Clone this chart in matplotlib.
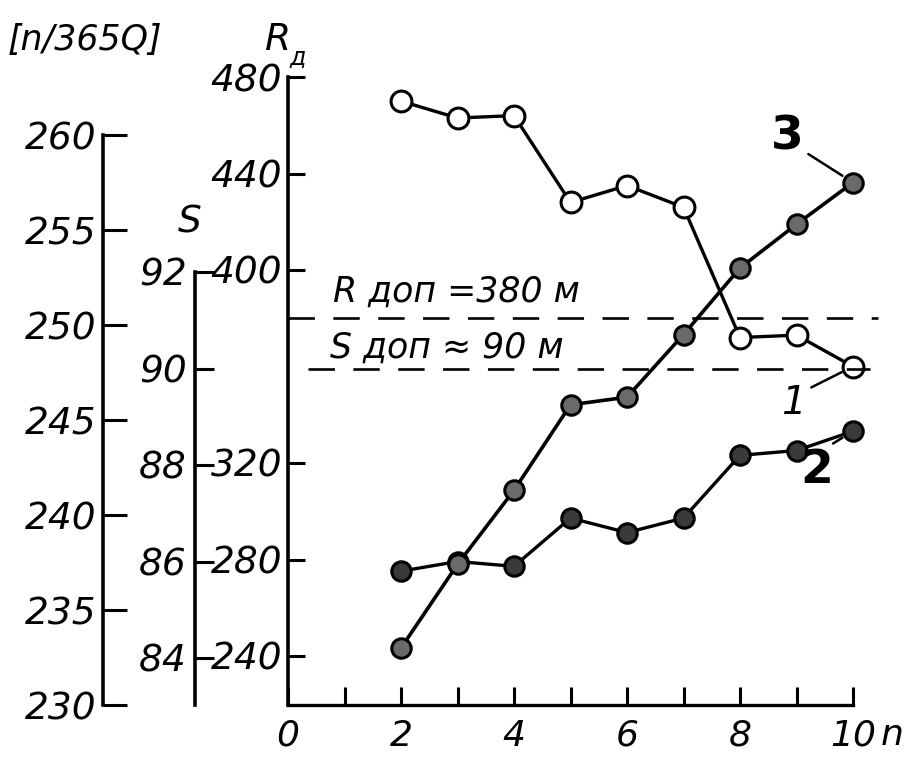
import matplotlib
matplotlib.use("Agg")
import matplotlib.pyplot as plt

# data
n = [2, 3, 4, 5, 6, 7, 8, 9, 10]
r_curve1 = [470, 463, 464, 428, 435, 426, 372, 373, 360]           # R, open circles
s_curve2 = [85.8, 86.0, 85.9, 86.9, 86.6, 86.9, 88.2, 88.3, 88.7]  # S, filled circles
q_curve3 = [233.0, 237.4, 241.3, 245.8, 246.2, 249.5, 253.0, 255.3, 257.5]  # n/365Q
r_ticks = [480, 440, 400, 320, 280, 240]
s_ticks = [92, 90, 88, 86, 84]
q_ticks = [260, 255, 250, 245, 240, 235, 230]
x_major = [0, 2, 4, 6, 8, 10]
x_minor = [1, 3, 5, 7, 9]
r_allowed = 380
s_allowed = 90

W, H = 915, 761
FONT = dict(family="DejaVu Sans", style="italic")

fig = plt.figure(figsize=(W / 100, H / 100), dpi=100)
ax = fig.add_axes([288 / W, 1 - 705 / H, (880 - 288) / W, (705 - 77) / H])
ax.set_xlim(0, (880 - 288) / 56.5)
ax.set_ylim(480 - 628 / 2.4125, 480)

ax_s = ax.twinx()
ax_s.set_ylim(92 - (705 - 272) / 48.25, 92 + (272 - 77) / 48.25)
ax_q = ax.twinx()
ax_q.set_ylim(230, 230 + (705 - 77) / 19.0)

width = 592.0
for a, pos in [(ax, 0.0), (ax_s, (195 - 288) / width), (ax_q, (103 - 288) / width)]:
    for side in ("top", "right"):
        a.spines[side].set_visible(False)
    if a is not ax:
        a.spines["bottom"].set_visible(False)
        a.yaxis.set_ticks_position("left")
        a.yaxis.set_label_position("left")
    a.spines["left"].set_visible(True)
    a.spines["left"].set_position(("axes", pos))
    a.spines["left"].set_linewidth(2.6)
    a.patch.set_visible(False)

ax.spines["bottom"].set_bounds(0, 10)
ax.spines["bottom"].set_linewidth(2.4)
ax_s.spines["left"].set_bounds(ax_s.get_ylim()[0], 92)
ax_q.spines["left"].set_bounds(230, 260)

# y axes
ax.set_yticks(r_ticks)
ax.set_yticklabels([str(v) for v in r_ticks], fontsize=27, **FONT)
ax.tick_params(axis="y", direction="in", length=12, width=2.2, pad=4)
ax_s.set_yticks(s_ticks)
ax_s.set_yticklabels([str(v) for v in s_ticks], fontsize=27, **FONT)
ax_s.tick_params(axis="y", direction="in", length=14, width=2.2, pad=6)
ax_q.set_yticks(q_ticks)
ax_q.set_yticklabels([str(v) for v in q_ticks], fontsize=27, **FONT)
ax_q.tick_params(axis="y", direction="in", length=17, width=2.2, pad=5)

# x axis
ax.set_xticks(x_major)
ax.set_xticklabels([str(v) for v in x_major], fontsize=26, **FONT)
ax.set_xticks(x_minor, minor=True)
ax.tick_params(axis="x", which="both", direction="in", length=13, width=2.2, pad=10)
ax.text(10.7, ax.get_ylim()[0] - 5.5, "n", fontsize=26, va="top", ha="center",
        transform=ax.transData, clip_on=False, **FONT)

# allowed-value lines
ax.plot([0, 10.45], [r_allowed, r_allowed], color="black", lw=1.9,
        ls=(0, (10, 7)), clip_on=False)
ax_s.plot([0.35, 10.3], [s_allowed, s_allowed], color="black", lw=1.9,
          ls=(0, (10, 7)), clip_on=False)
ax.text(0.8, r_allowed + 4, "R доп =380 м", fontsize=25, va="bottom", **FONT)
ax_s.text(0.75, s_allowed + 0.08, "S доп ≈ 90 м", fontsize=25, va="bottom", **FONT)

# curves
ax.plot(n, r_curve1, color="black", lw=2.4, marker="o", ms=15,
        mfc="white", mec="black", mew=2.2, clip_on=False, zorder=3)
ax_s.plot(n, s_curve2, color="black", lw=2.4, marker="o", ms=14,
          mfc="#3a3a3a", mec="black", mew=2.2, clip_on=False, zorder=3)
ax_q.plot(n, q_curve3, color="black", lw=2.6, marker="o", ms=14,
          mfc="#6a6a6a", mec="black", mew=2.2, clip_on=False, zorder=3)

# curve numbers
lead = dict(arrowstyle="-", lw=1.8, color="black", shrinkA=2, shrinkB=9)
ax_q.annotate("3", xy=(n[-1], q_curve3[-1]), xytext=(8.83, 455), textcoords=ax.transData,
              fontsize=34, fontweight="bold", ha="center", va="center",
              arrowprops=dict(lead, relpos=(1.0, 0.2)))
ax.annotate("1", xy=(n[-1], r_curve1[-1]), xytext=(8.95, 345),
            fontsize=28, ha="center", va="center", **FONT,
            arrowprops=dict(lead, relpos=(0.9, 0.8)))
ax_s.annotate("2", xy=(n[-1], s_curve2[-1]), xytext=(9.35, 317), textcoords=ax.transData,
              fontsize=34, fontweight="bold", ha="center", va="center",
              arrowprops=dict(lead, relpos=(0.8, 1.0)))

# axis titles
fig.text(8 / W, 1 - 40 / H, "[n/365Q]", fontsize=25, va="center", ha="left", **FONT)
fig.text(190 / W, 1 - 222 / H, "S", fontsize=27, va="center", ha="center", **FONT)
fig.text(278 / W, 1 - 40 / H, "R", fontsize=27, va="center", ha="center", **FONT)
fig.text(298 / W, 1 - 58 / H, "д", fontsize=17, va="center", ha="center", **FONT)

fig.savefig("out.png", dpi=100)
